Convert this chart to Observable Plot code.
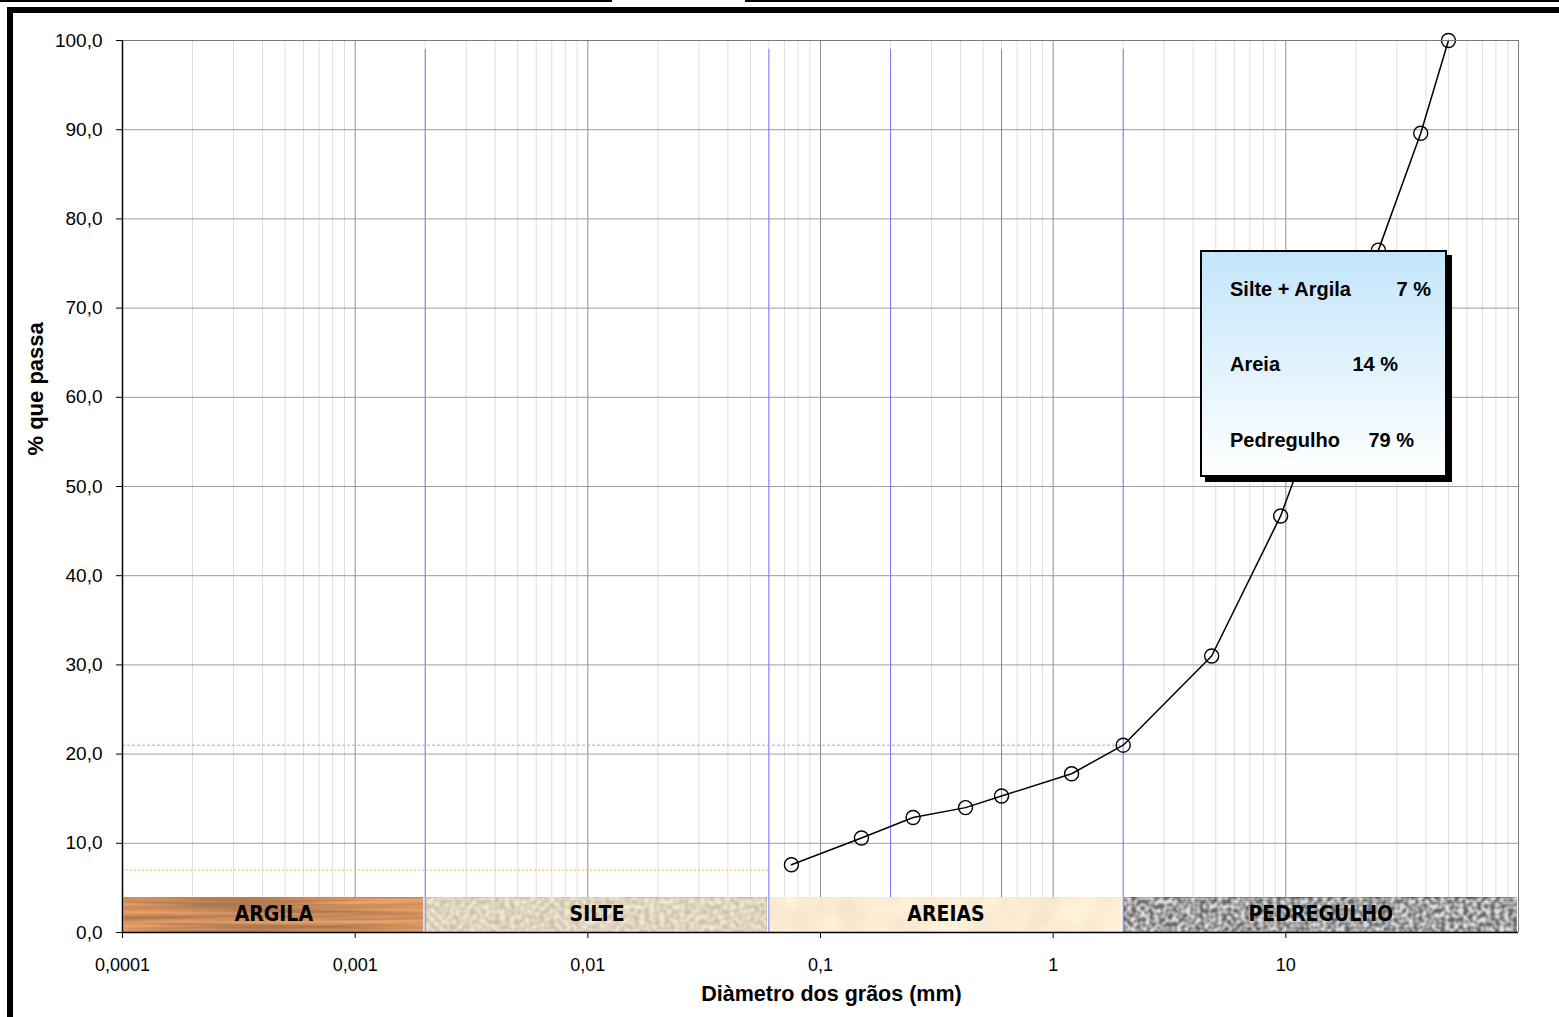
<!DOCTYPE html>
<html>
<head>
<meta charset="utf-8">
<script src="https://cdn.jsdelivr.net/npm/d3@7"></script>
<script src="https://cdn.jsdelivr.net/npm/@observablehq/plot@0.6"></script>
<style>
  html, body { margin: 0; padding: 0; background: #fff; }
  #page { position: relative; width: 1559px; height: 1017px; overflow: hidden; background: #fff; }
  #chart { position: absolute; left: 0; top: 0; }
  .bar { position: absolute; background: #000; }
  #summary {
    position: absolute; left: 1200px; top: 250px; width: 243px; height: 223px;
    border: 2px solid #000; box-shadow: 5px 5px 0 #000;
    background: linear-gradient(#c3e5fb, #ffffff);
  }
  #summary svg { position: absolute; left: -2px; top: -2px; overflow: visible; }
  #summary text { font-family: "Liberation Sans", Arial, sans-serif; font-weight: bold; font-size: 20px; fill: #000; }
</style>
</head>
<body>
<div id="page">
  <svg width="0" height="0" style="position:absolute">
    <defs>
      <filter id="tex-argila" x="0" y="0" width="1" height="1" color-interpolation-filters="sRGB">
        <feTurbulence type="fractalNoise" baseFrequency="0.006 0.2" numOctaves="2" seed="11" result="t"/>
        <feColorMatrix in="t" type="matrix" values="2.2 0 0 0 -0.6  2.2 0 0 0 -0.6  2.2 0 0 0 -0.6  0 0 0 0 1" result="g"/>
        <feComposite in="SourceGraphic" in2="g" operator="arithmetic" k1="0.3" k2="0.86" k3="0" k4="0"/>
      </filter>
      <filter id="tex-silte" x="0" y="0" width="1" height="1" color-interpolation-filters="sRGB">
        <feTurbulence type="fractalNoise" baseFrequency="0.2" numOctaves="1" seed="5" result="t"/>
        <feColorMatrix in="t" type="matrix" values="2.2 0 0 0 -0.6  2.2 0 0 0 -0.6  2.2 0 0 0 -0.6  0 0 0 0 1" result="g"/>
        <feComposite in="SourceGraphic" in2="g" operator="arithmetic" k1="0.18" k2="0.92" k3="0" k4="0"/>
      </filter>
      <filter id="tex-areias" x="0" y="0" width="1" height="1" color-interpolation-filters="sRGB">
        <feTurbulence type="fractalNoise" baseFrequency="0.03" numOctaves="2" seed="2" result="t"/>
        <feColorMatrix in="t" type="matrix" values="2.2 0 0 0 -0.6  2.2 0 0 0 -0.6  2.2 0 0 0 -0.6  0 0 0 0 1" result="g"/>
        <feComposite in="SourceGraphic" in2="g" operator="arithmetic" k1="0.06" k2="0.97" k3="0" k4="0"/>
      </filter>
      <filter id="tex-pedregulho" x="0" y="0" width="1" height="1" color-interpolation-filters="sRGB">
        <feTurbulence type="fractalNoise" baseFrequency="0.22" numOctaves="1" seed="4" result="t"/>
        <feColorMatrix in="t" type="matrix" values="2.4 0 0 0 -0.7  2.4 0 0 0 -0.7  2.4 0 0 0 -0.7  0 0 0 0 1" result="g"/>
        <feComposite in="SourceGraphic" in2="g" operator="arithmetic" k1="0.7" k2="0.65" k3="0" k4="0"/>
      </filter>
    </defs>
  </svg>
  <div id="chart"></div>
  <div class="bar" style="left:0;top:0;width:612px;height:2px"></div>
  <div class="bar" style="left:745px;top:0;width:814px;height:2px"></div>
  <div class="bar" style="left:7px;top:7px;width:1552px;height:6px"></div>
  <div class="bar" style="left:7px;top:7px;width:6px;height:1010px"></div>
  <div id="summary"></div>
</div>
<script>
// ---- data ----
const diameters = [0.075, 0.15, 0.25, 0.42, 0.6, 1.2, 2.0, 4.8, 9.5, 25, 38, 50];
const passing   = [7.6, 10.6, 12.9, 14.0, 15.3, 17.8, 21.0, 31.0, 46.7, 76.5, 89.6, 100.0];

const xTickValues = [0.0001, 0.001, 0.01, 0.1, 1, 10];
const xTickLabels = ["0,0001", "0,001", "0,01", "0,1", "1", "10"];
const yTickValues = [0, 10, 20, 30, 40, 50, 60, 70, 80, 90, 100];
const yTickLabels = ["0,0", "10,0", "20,0", "30,0", "40,0", "50,0", "60,0", "70,0", "80,0", "90,0", "100,0"];

const classNames  = ["ARGILA", "SILTE", "AREIAS", "PEDREGULHO"];
const classFrom   = [0.0001, 0.002, 0.06, 2.0];
const classTo     = [0.002, 0.06, 2.0, 100];
const classColors = ["#c98b5b", "#ddd3be", "#fcecd3", "#a3a3a3"];
const classTextures = ["tex-argila", "tex-silte", "tex-areias", "tex-pedregulho"];

const boundaryDiameters = [0.002, 0.06, 0.2, 0.6, 2.0];
const finesLevel = 7, finesLimit = 0.06;
const d2Level = 21, d2Limit = 2.0;

const summaryLabels = ["Silte + Argila", "Areia", "Pedregulho"];
const summaryValues = [7, 14, 79];

const xTitle = "Diàmetro dos grãos (mm)";
const yTitle = "% que passa";

// ---- tables ----
const points = diameters.map((d, i) => ({d, p: passing[i]}));
const bands = classNames.map((name, i) => ({name, from: classFrom[i], to: classTo[i], color: classColors[i]}));
const xDomain = [0.0001, 100];
const logTicks = d3.scaleLog().domain(xDomain).ticks();
const isDecade = v => Math.abs(Math.log10(v) - Math.round(Math.log10(v))) < 1e-9;
const minorTicks = logTicks.filter(v => !isDecade(v));
const majorTicks = logTicks.filter(isDecade);
const xLab = new Map(xTickValues.map((v, i) => [v, xTickLabels[i]]));
const yLab = new Map(yTickValues.map((v, i) => [v, yTickLabels[i]]));

const font = "'Liberation Sans', Arial, sans-serif";
const narrow = "'Liberation Sans Narrow', 'Arial Narrow', 'DejaVu Sans Condensed', Lato, sans-serif";

const chart = Plot.plot({
  width: 1559, height: 1017,
  marginLeft: 122, marginRight: 41, marginTop: 40, marginBottom: 85,
  x: {type: "log", domain: xDomain},
  y: {domain: [0, 100]},
  color: {type: "identity"},
  style: {fontFamily: font, fontSize: "18px", color: "#000", background: "transparent"},
  marks: [
    Plot.ruleX(minorTicks, {y1: 0, y2: 100, stroke: "#dedede"}),
    Plot.ruleX(majorTicks, {y1: 0, y2: 100, stroke: "#8f8f8f"}),
    Plot.ruleY(yTickValues, {stroke: "#9c9c9c"}),
    Plot.ruleX(boundaryDiameters, {y1: 0, y2: 99, stroke: "#7878ff"}),
    Plot.ruleY([finesLevel], {x1: xDomain[0], x2: finesLimit, stroke: "#ffa860", strokeDasharray: "2,2"}),
    Plot.ruleY([d2Level], {x1: xDomain[0], x2: d2Limit, stroke: "#e58be5", strokeDasharray: "3,2"}),
    Plot.rect(bands, {x1: "from", x2: "to", y1: 0, y2: 3.9, fill: "color", insetLeft: 1.5, insetRight: 1.5, className: "soil-band"}),
    Plot.text(bands, {x: d => Math.sqrt(d.from * d.to), y: 2, text: "name", fontWeight: "bold", fontFamily: narrow, fontSize: 21, fill: "#000"}),
    Plot.line(points, {x: "d", y: "p", stroke: "#000", strokeWidth: 1.5}),
    Plot.dot(points, {x: "d", y: "p", r: 7, stroke: "#000", strokeWidth: 1.4, fill: "none"}),
    Plot.ruleY([100], {stroke: "#7a7a7a"}),
    Plot.ruleX([xDomain[1]], {stroke: "#7a7a7a"}),
    Plot.ruleX([xDomain[0]], {stroke: "#000", strokeWidth: 1.5}),
    Plot.ruleY([0], {stroke: "#000", strokeWidth: 1.5}),
    Plot.axisX({ticks: xTickValues, tickFormat: d => xLab.get(d), tickSize: 6, tickPadding: 20, label: null, fontSize: 18}),
    Plot.axisY({ticks: yTickValues, tickFormat: d => yLab.get(d), tickSize: 6, tickPadding: 14, label: null, fontSize: 19}),
    Plot.text([xTitle], {frameAnchor: "bottom", dx: 11, dy: 68, text: d => d, fontWeight: "bold", fontSize: 21.5}),
    Plot.text([yTitle], {frameAnchor: "left", dx: -87, dy: -31, rotate: -90, text: d => d, fontWeight: "bold", fontSize: 22})
  ]
});
document.getElementById("chart").appendChild(chart);
d3.select(chart).selectAll(".soil-band rect").each(function(d, i) {
  this.setAttribute("filter", `url(#${classTextures[i]})`);
});

// summary box
const rowBaselines = [46, 121, 197];
const valueX = [231, 198, 214];
const sv = d3.select("#summary").append("svg").attr("width", 247).attr("height", 227);
summaryLabels.forEach((lab, i) => {
  sv.append("text").attr("x", 30).attr("y", rowBaselines[i]).text(lab);
  sv.append("text").attr("x", valueX[i]).attr("y", rowBaselines[i]).attr("text-anchor", "end").text(`${summaryValues[i]} %`);
});
</script>
</body>
</html>
